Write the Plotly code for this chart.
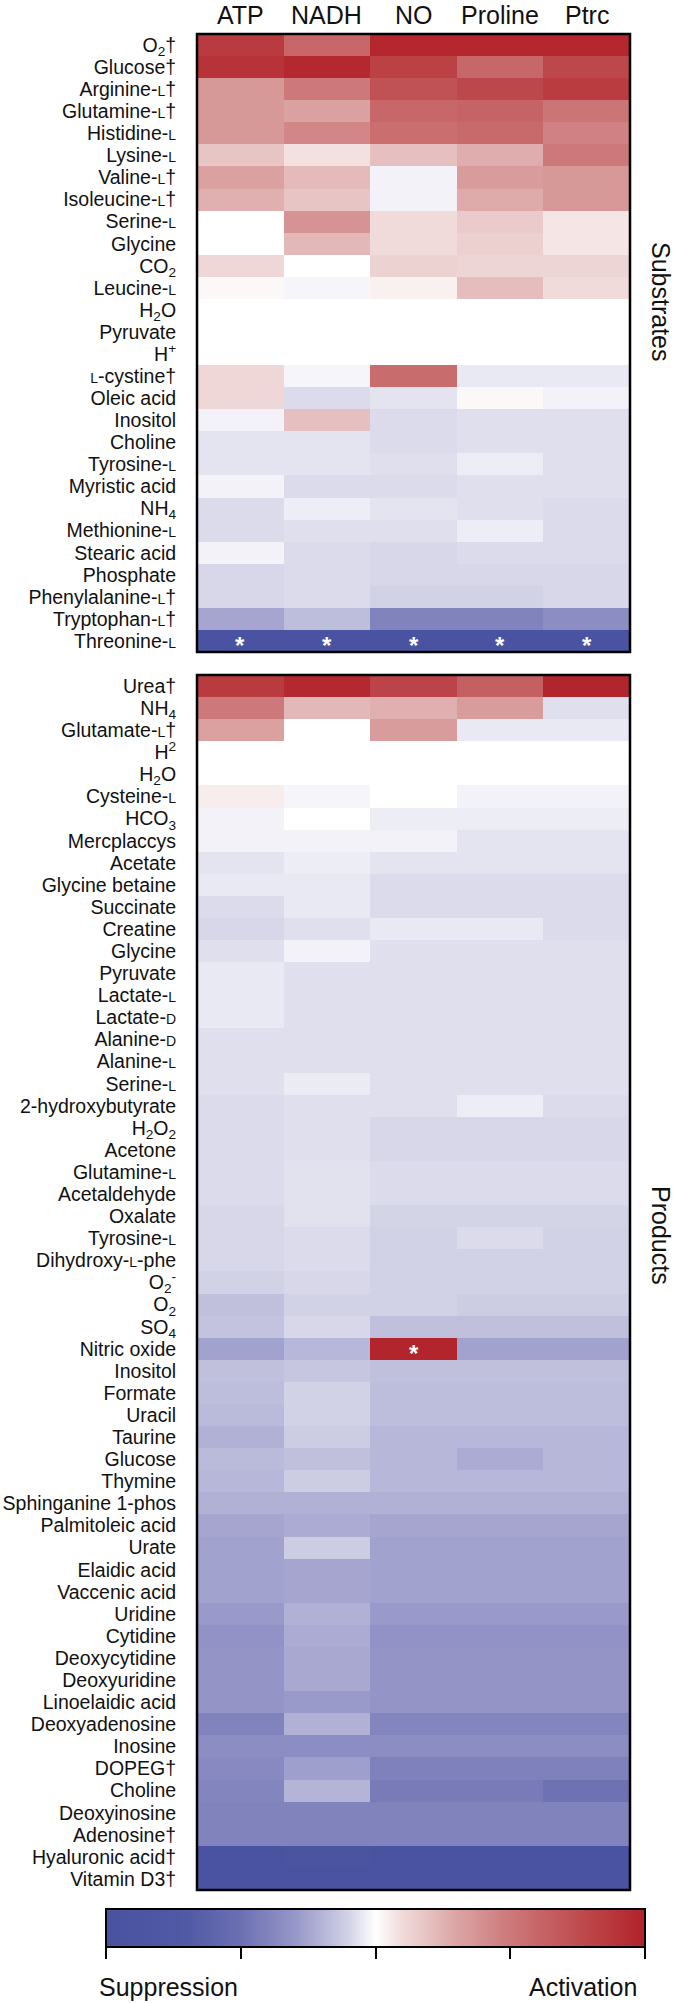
import plotly.graph_objects as go

W, H = 678, 2003
FONT = "Liberation Sans, Arial, Helvetica, sans-serif"


def sc(s):
    return f"<span style='font-size:14px'>{s}</span>"


columns = ["ATP", "NADH", "NO", "Proline", "Ptrc"]

substrate_labels = [
    "O<sub>2</sub>†", "Glucose†", f"Arginine-{sc('L')}†", f"Glutamine-{sc('L')}†",
    f"Histidine-{sc('L')}", f"Lysine-{sc('L')}", f"Valine-{sc('L')}†", f"Isoleucine-{sc('L')}†",
    f"Serine-{sc('L')}", "Glycine", "CO<sub>2</sub>", f"Leucine-{sc('L')}",
    "H<sub>2</sub>O", "Pyruvate", "H<sup>+</sup>", f"{sc('L')}-cystine†",
    "Oleic acid", "Inositol", "Choline", f"Tyrosine-{sc('L')}",
    "Myristic acid", "NH<sub>4</sub>", f"Methionine-{sc('L')}", "Stearic acid",
    "Phosphate", f"Phenylalanine-{sc('L')}†", f"Tryptophan-{sc('L')}†", f"Threonine-{sc('L')}",
]

sub_ATP = [0.86, 0.9, 0.36, 0.36, 0.36, 0.18, 0.32, 0.26, 0, 0, 0.11, 0.02, 0, 0, 0, 0.11,
           0.11, -0.03, -0.06, -0.06, -0.03, -0.08, -0.08, -0.03, -0.09, -0.09, -0.25, -0.95]
sub_NADH = [0.6, 0.96, 0.5, 0.32, 0.44, 0.08, 0.22, 0.18, 0.38, 0.23, 0, -0.02, 0, 0, 0, -0.02,
            -0.08, 0.2, -0.06, -0.06, -0.08, -0.04, -0.07, -0.08, -0.08, -0.08, -0.17, -0.95]
sub_NO = [0.97, 0.82, 0.72, 0.6, 0.56, 0.2, -0.03, -0.03, 0.1, 0.1, 0.13, 0.04, 0, 0, 0, 0.57,
          -0.06, -0.08, -0.08, -0.07, -0.08, -0.06, -0.07, -0.09, -0.09, -0.1, -0.4, -0.95]
sub_Proline = [0.97, 0.6, 0.78, 0.62, 0.58, 0.27, 0.34, 0.28, 0.16, 0.14, 0.12, 0.21, 0, 0, 0, -0.05,
               0.02, -0.07, -0.07, -0.04, -0.07, -0.07, -0.04, -0.08, -0.09, -0.1, -0.4, -0.95]
sub_Ptrc = [0.97, 0.78, 0.85, 0.52, 0.46, 0.5, 0.36, 0.36, 0.07, 0.07, 0.12, 0.1, 0, 0, 0, -0.05,
            -0.03, -0.07, -0.07, -0.07, -0.07, -0.08, -0.08, -0.08, -0.09, -0.09, -0.35, -0.95]

product_labels = [
    "Urea†", "NH<sub>4</sub>", f"Glutamate-{sc('L')}†", "H<sup>2</sup>", "H<sub>2</sub>O",
    f"Cysteine-{sc('L')}", "HCO<sub>3</sub>", "Mercplaccys", "Acetate", "Glycine betaine",
    "Succinate", "Creatine", "Glycine", "Pyruvate", f"Lactate-{sc('L')}",
    f"Lactate-{sc('D')}", f"Alanine-{sc('D')}", f"Alanine-{sc('L')}", f"Serine-{sc('L')}", "2-hydroxybutyrate",
    "H<sub>2</sub>O<sub>2</sub>", "Acetone", f"Glutamine-{sc('L')}", "Acetaldehyde", "Oxalate",
    f"Tyrosine-{sc('L')}", f"Dihydroxy-{sc('L')}-phe", "O<sub>2</sub><sup>-</sup>", "O<sub>2</sub>", "SO<sub>4</sub>",
    "Nitric oxide", "Inositol", "Formate", "Uracil", "Taurine",
    "Glucose", "Thymine", "Sphinganine 1-phos", "Palmitoleic acid", "Urate",
    "Elaidic acid", "Vaccenic acid", "Uridine", "Cytidine", "Deoxycytidine",
    "Deoxyuridine", "Linoelaidic acid", "Deoxyadenosine", "Inosine", "DOPEG†",
    "Choline", "Deoxyinosine", "Adenosine†", "Hyaluronic acid†", "Vitamin D3†",
]

prod_ATP = [0.86, 0.5, 0.32, 0, 0, 0.05, -0.03, -0.03, -0.06, -0.05, -0.08, -0.09, -0.07, -0.05, -0.05,
            -0.05, -0.07, -0.07, -0.07, -0.08, -0.08, -0.08, -0.08, -0.08, -0.09, -0.09, -0.09, -0.1,
            -0.16, -0.15, -0.26, -0.16, -0.17, -0.18, -0.21, -0.18, -0.19, -0.21, -0.25, -0.26, -0.26,
            -0.26, -0.29, -0.32, -0.31, -0.31, -0.31, -0.4, -0.35, -0.37, -0.39, -0.4, -0.4, -0.95, -0.95]
prod_NADH = [0.96, 0.23, 0, 0, 0, -0.02, 0, -0.03, -0.04, -0.05, -0.05, -0.07, -0.03, -0.07, -0.07,
             -0.07, -0.07, -0.07, -0.045, -0.07, -0.07, -0.07, -0.065, -0.065, -0.065, -0.08, -0.08,
             -0.09, -0.1, -0.09, -0.19, -0.14, -0.1, -0.1, -0.12, -0.16, -0.12, -0.21, -0.23, -0.12,
             -0.25, -0.25, -0.21, -0.23, -0.24, -0.24, -0.29, -0.21, -0.35, -0.27, -0.2, -0.4, -0.4,
             -0.93, -0.95]
prod_NO = [0.8, 0.26, 0.34, 0, 0, 0, -0.04, -0.03, -0.06, -0.08, -0.08, -0.05, -0.07, -0.07, -0.07,
           -0.07, -0.07, -0.07, -0.07, -0.07, -0.09, -0.09, -0.08, -0.08, -0.095, -0.1, -0.1, -0.1,
           -0.1, -0.16, 0.98, -0.16, -0.17, -0.17, -0.19, -0.19, -0.19, -0.21, -0.25, -0.26, -0.26,
           -0.26, -0.29, -0.32, -0.31, -0.31, -0.31, -0.39, -0.35, -0.41, -0.44, -0.4, -0.4, -0.95, -0.95]
prod_Proline = [0.64, 0.34, -0.05, 0, 0, -0.03, -0.04, -0.06, -0.06, -0.08, -0.08, -0.05, -0.07, -0.07,
                -0.07, -0.07, -0.07, -0.07, -0.07, -0.04, -0.09, -0.09, -0.08, -0.08, -0.095, -0.08,
                -0.1, -0.1, -0.12, -0.16, -0.26, -0.16, -0.17, -0.17, -0.19, -0.23, -0.19, -0.21,
                -0.25, -0.26, -0.26, -0.26, -0.29, -0.32, -0.31, -0.31, -0.31, -0.39, -0.35, -0.41,
                -0.44, -0.4, -0.4, -0.95, -0.95]
prod_Ptrc = [0.98, -0.07, -0.05, 0, 0, -0.03, -0.04, -0.06, -0.06, -0.08, -0.08, -0.08, -0.07, -0.07,
             -0.07, -0.07, -0.07, -0.07, -0.07, -0.08, -0.09, -0.09, -0.08, -0.08, -0.095, -0.1, -0.1,
             -0.1, -0.12, -0.16, -0.26, -0.16, -0.17, -0.17, -0.19, -0.19, -0.19, -0.21, -0.25, -0.26,
             -0.26, -0.26, -0.29, -0.32, -0.31, -0.31, -0.31, -0.39, -0.35, -0.41, -0.49, -0.4, -0.4,
             -0.95, -0.95]

# significant cells (row index, column)
substrate_stars = [(27, "ATP"), (27, "NADH"), (27, "NO"), (27, "Proline"), (27, "Ptrc")]
product_stars = [(30, "NO")]

section_titles = ["Substrates", "Products"]
scale_labels = ["Suppression", "Activation"]
scale_ticks = [-1, -0.5, 0, 0.5, 1]

colorscale = [
    [0.0, "rgb(72,82,160)"], [0.15, "rgb(80,90,165)"], [0.25, "rgb(108,112,178)"],
    [0.35, "rgb(150,150,200)"], [0.45, "rgb(210,210,230)"], [0.5, "rgb(255,255,255)"],
    [0.55, "rgb(240,218,218)"], [0.65, "rgb(220,165,165)"], [0.75, "rgb(205,120,122)"],
    [0.88, "rgb(190,75,78)"], [1.0, "rgb(178,34,42)"],
]


def py(p):
    return 1 - p / H


sub_rows = list(range(len(substrate_labels)))
prod_rows = list(range(len(product_labels)))
sub_z = [list(r) for r in zip(sub_ATP, sub_NADH, sub_NO, sub_Proline, sub_Ptrc)]
prod_z = [list(r) for r in zip(prod_ATP, prod_NADH, prod_NO, prod_Proline, prod_Ptrc)]

fig = go.Figure()
fig.add_trace(go.Heatmap(z=sub_z, x=columns, y=sub_rows, coloraxis="coloraxis",
                         xaxis="x", yaxis="y", hoverinfo="skip"))
fig.add_trace(go.Heatmap(z=prod_z, x=columns, y=prod_rows, coloraxis="coloraxis",
                         xaxis="x2", yaxis="y2", hoverinfo="skip"))

xdom = [197 / W, 630 / W]
ax_common = dict(showgrid=False, zeroline=False, showline=False)
tickfont = dict(size=19.5, family=FONT, color="#111111")
fig.update_layout(
    width=W, height=H,
    margin=dict(l=0, r=0, t=0, b=0, autoexpand=False),
    paper_bgcolor="white", plot_bgcolor="white",
    font=dict(family=FONT, color="#111111"),
    xaxis=dict(domain=xdom, anchor="y", showticklabels=False, ticks="", **ax_common),
    xaxis2=dict(domain=xdom, anchor="y2", showticklabels=False, ticks="", **ax_common),
    yaxis=dict(domain=[py(652), py(34)], anchor="x", range=[len(sub_rows) - 0.5, -0.5],
               tickmode="array", tickvals=sub_rows, ticktext=substrate_labels,
               ticks="outside", ticklen=16, tickcolor="rgba(0,0,0,0)",
               tickfont=tickfont, automargin=False, **ax_common),
    yaxis2=dict(domain=[py(1890), py(675)], anchor="x2", range=[len(prod_rows) - 0.5, -0.5],
                tickmode="array", tickvals=prod_rows, ticktext=product_labels,
                ticks="outside", ticklen=16, tickcolor="rgba(0,0,0,0)",
                tickfont=tickfont, automargin=False, **ax_common),
    coloraxis=dict(
        colorscale=colorscale, cmin=-1, cmax=1,
        colorbar=dict(
            orientation="h", x=(106 + 645) / 2 / W, xanchor="center",
            y=py(1909), yanchor="top", lenmode="pixels", len=539,
            thicknessmode="pixels", thickness=38, xpad=0, ypad=0,
            outlinewidth=2, outlinecolor="black",
            tickmode="array", tickvals=scale_ticks, ticks="outside", ticklen=11,
            tickwidth=2, tickcolor="black", showticklabels=False,
        ),
    ),
)

# panel borders
for xr, yr in [("x domain", "y domain"), ("x2 domain", "y2 domain")]:
    fig.add_shape(type="rect", xref=xr, yref=yr, x0=0, x1=1, y0=0, y1=1,
                  line=dict(color="black", width=2.5), fillcolor="rgba(0,0,0,0)")

# column headers
for c in columns:
    fig.add_annotation(text=c, xref="x", x=c, yref="paper", y=py(15), yanchor="middle",
                       showarrow=False, font=dict(size=25, family=FONT, color="#111111"))

# section titles
fig.add_annotation(text=section_titles[0], xref="paper", x=661 / W, yref="paper", y=py(302),
                   textangle=90, showarrow=False, xanchor="center", yanchor="middle",
                   font=dict(size=25, family=FONT, color="#111111"))
fig.add_annotation(text=section_titles[1], xref="paper", x=661 / W, yref="paper", y=py(1235),
                   textangle=90, showarrow=False, xanchor="center", yanchor="middle",
                   font=dict(size=25, family=FONT, color="#111111"))

# asterisks
for r, c in substrate_stars:
    fig.add_annotation(text="<b>*</b>", xref="x", x=c, yref="y", y=sub_rows[r], showarrow=False,
                       yshift=-5, font=dict(size=24, family=FONT, color="white"))
for r, c in product_stars:
    fig.add_annotation(text="<b>*</b>", xref="x2", x=c, yref="y2", y=prod_rows[r], showarrow=False,
                       yshift=-5, font=dict(size=24, family=FONT, color="white"))

# colour bar end labels
fig.add_annotation(text=scale_labels[0], xref="paper", x=97 / W, xanchor="left", yref="paper",
                   y=0, yanchor="bottom", showarrow=False,
                   font=dict(size=25, family=FONT, color="#111111"))
fig.add_annotation(text=scale_labels[1], xref="paper", x=639 / W, xanchor="right", yref="paper",
                   y=0, yanchor="bottom", showarrow=False,
                   font=dict(size=25, family=FONT, color="#111111"))

fig.write_html("out.html", config={"displayModeBar": False},
               post_script="document.body.style.margin='0';document.body.style.overflow='hidden';")
